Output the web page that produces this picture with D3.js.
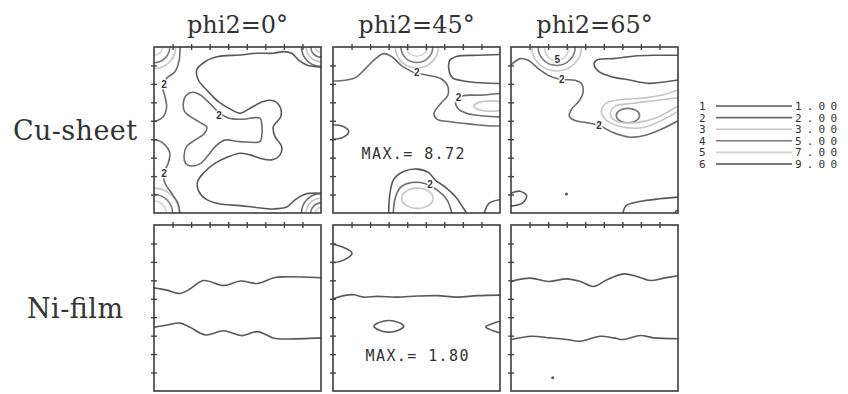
<!DOCTYPE html>
<html>
<head>
<meta charset="utf-8">
<script src="https://cdn.jsdelivr.net/npm/d3@7"></script>
<style>
  body { margin: 0; background: #fff; }
  svg { display: block; }
</style>
</head>
<body>
<svg id="chart" width="848" height="394"></svg>
<script>
// headings
const samples = ["Cu-sheet", "Ni-film"];
const sections = ["phi2=0°", "phi2=45°", "phi2=65°"];

// contour levels shown in the legend
const levelIds = [1, 2, 3, 4, 5, 6];
const levelValues = ["1.00", "2.00", "3.00", "5.00", "7.00", "9.00"];

// max intensity of each sample (printed in the phi2=45 section)
const maxValues = ["8.72", "1.80"];

const tickValues = [10, 20, 30, 40, 50, 60, 70, 80];

// contour lines, every point is [phi1, PHI] in degrees (0..90)
const cu0Lines = [
  {level: 2, closed: false, pts: [[14,0],[13.6,7],[11.3,13.4],[6.8,17],[4.7,21.5],[5.9,26.9],[6.8,32.4],[5,37.8],[0,40.5]]},
  {level: 2, closed: false, pts: [[0,50],[5,52.2],[8.5,57.5],[7.5,63.5],[5,68.5],[6,74],[10,80],[13,85],[14,90]]},
  {level: 1, closed: false, pts: [[90,11],[82.3,9.8],[77.8,7],[74.2,3.4],[69.7,2.5],[64.3,3.4],[55.4,3.4],[46.4,4.3],[33.8,5.3],[27.5,8],[23,12.5],[23.9,17.9],[28.4,23.3],[34.7,29.6],[41.9,34.1],[46.4,36],[51.8,33.2],[58.9,29.6],[64.3,29.1],[67.9,32.4],[68.3,37.8],[64.3,43.2],[65.2,48.6],[68.8,54],[67.9,58.5],[63.4,61.2],[57.1,60.3],[51.8,58.5],[46.4,57.6],[40,59.5],[33,63],[27,68],[23.5,73],[24,78],[28,82.5],[35,85],[46.4,86],[55,87],[64.3,87.8],[71.5,86.8],[76,82.9],[81.4,79.8],[90,79.3]]},
  {level: 2, closed: true, pts: [[46.4,39.2],[40,38.5],[35,35.5],[30,30.5],[25,26],[21,24.5],[17.5,26],[15.8,30.5],[16.5,35],[20,38],[25,41],[28.5,43.5],[27,47],[22,50.5],[17.5,54],[16.2,59],[17,63],[20,64.5],[24.5,63.5],[29,59],[33,54],[38,50.5],[46.4,51.3],[57.1,51.3],[58,48.6],[58,41.4],[57.1,38.6]]}
];
// ring-shaped contours round a peak: centre and radii in degrees
const cu0Rings = [
  {level: 3, cx: 0, cy: 0, rx: 11.7, ry: 11.7}, {level: 4, cx: 0, cy: 0, rx: 8.5, ry: 8.5}, {level: 5, cx: 0, cy: 0, rx: 4.5, ry: 4.5},
  {level: 2, cx: 90, cy: 0, rx: 10.5, ry: 10.5}, {level: 3, cx: 90, cy: 0, rx: 8, ry: 8}, {level: 4, cx: 90, cy: 0, rx: 5.5, ry: 5.5}, {level: 5, cx: 90, cy: 0, rx: 3, ry: 3},
  {level: 3, cx: 0, cy: 90, rx: 13.5, ry: 13.5}, {level: 4, cx: 0, cy: 90, rx: 10, ry: 10}, {level: 5, cx: 0, cy: 90, rx: 6.5, ry: 6.5},
  {level: 2, cx: 90, cy: 90, rx: 10.5, ry: 10.5}, {level: 3, cx: 90, cy: 90, rx: 8, ry: 8}, {level: 4, cx: 90, cy: 90, rx: 5.5, ry: 5.5}, {level: 5, cx: 90, cy: 90, rx: 3, ry: 3}
];
const cu0Labels = [{text: "2", x: 5.4, y: 20.6}, {text: "2", x: 5.4, y: 68.8}, {text: "2", x: 35, y: 36.9}];

const cu45Lines = [
  {level: 1, closed: false, pts: [[0,42.3],[4.9,42.8],[8.5,45.9],[5.4,49],[0,50]]},
  {level: 2, closed: false, pts: [[0,18.4],[6.7,18],[12.1,16.6],[17.5,11.7],[22.9,6.3],[27.4,3.6],[31.9,5.4],[37.3,10.4],[43.6,13.8],[50.8,15.3],[58,17.1],[61.6,20.7],[61.9,26.1],[58,30.6],[54.4,36],[56.2,39.2],[63.4,40.5],[74.2,41.8],[83.2,42.7],[90,42.8]]},
  {level: 1, closed: false, pts: [[90,4.1],[77.8,4.5],[67,5],[63,7.2],[62.5,12.6],[64.3,16.6],[70.6,18.4],[79.6,19.4],[90,19.8]]},
  {level: 2, closed: false, pts: [[90,25.2],[79.6,26.1],[69.7,26.6],[66.1,29.7],[67.3,33.3],[72.4,36],[81.4,37.4],[90,37.9]]},
  {level: 1, closed: false, pts: [[30,90],[30.5,81],[32.6,72],[38,67.5],[45.1,66.2],[51.4,68],[55,72],[61.2,76.5],[66.6,81.9],[70.2,87.3],[72,90]]},
  {level: 2, closed: false, pts: [[32.5,90],[33.5,82],[36.5,76],[42.5,73.5],[49.5,74],[56,77.5],[61.5,83],[64,90]]},
  {level: 1, closed: false, pts: [[90,82.8],[84.2,84.6],[81.5,90]]}
];
const cu45Rings = [
  {level: 3, cx: 45.2, cy: 0, rx: 11.6, ry: 11.4}, {level: 4, cx: 45.2, cy: 0, rx: 8.6, ry: 8.4}, {level: 5, cx: 45.2, cy: 0, rx: 5.6, ry: 5},
  {level: 3, cx: 85, cy: 32, rx: 9, ry: 2.8},
  {level: 3, cx: 45.5, cy: 82, rx: 8.5, ry: 5.5}
];
const cu45Labels = [{text: "2", x: 45.1, y: 14}, {text: "2", x: 67.6, y: 27.5}, {text: "2", x: 52.3, y: 74.5}];

const cu65Lines = [
  {level: 2, closed: false, pts: [[0,9.9],[4.8,6.3],[9.3,7.2],[14.7,11.7],[20.9,15.8],[27.3,17.6],[34.4,18],[38,19.8],[38.9,24.3],[37.1,28.8],[32.6,33.8],[31.4,37.4],[34.4,39.9],[40.7,41],[47.3,42.4],[55,46.4],[64,48.9],[72.9,47.7],[81.9,44.2],[90,40]]},
  {level: 1, closed: false, pts: [[90,4.5],[76.5,4.5],[65.7,5],[55,6.3],[46.9,6.8],[44.8,9],[46.9,12.9],[53.2,15.8],[63.9,17.9],[74.6,19.7],[83.6,18.8],[90,17.9]]},
  {level: 3, closed: false, pts: [[90,23.3],[81.8,26],[71.1,27.7],[58.5,28.6],[51.4,30.4],[48.7,34.9],[51.4,39.7],[58.5,43],[69.3,43.9],[78.2,41.2],[90,34.9]]},
  {level: 3, closed: false, pts: [[90,27.5],[78,29],[66,30.5],[56,32.2],[53.5,36.5],[57,40.3],[67,41],[78,38.5],[90,32]]},
  {level: 1, closed: false, pts: [[0,79.3],[4.8,78.2],[8.4,80.6],[6.3,84.5],[0,86.3]]},
  {level: 1, closed: false, pts: [[60.3,90],[62.1,86],[69.3,83.8],[80,82.3],[90,81.4]]}
];
const cu65Rings = [
  {level: 3, cx: 24.6, cy: 0, rx: 13.4, ry: 13}, {level: 4, cx: 24.6, cy: 0, rx: 10, ry: 10}, {level: 5, cx: 24.6, cy: 0, rx: 6.5, ry: 7.5},
  {level: 4, cx: 63, cy: 37.2, rx: 6.3, ry: 3.9},
  {level: 1, cx: 90, cy: 90, rx: 1.5, ry: 1.5},
  {level: 1, cx: 29.9, cy: 79.7, rx: 0.4, ry: 0.4}
];
const cu65Labels = [{text: "5", x: 25, y: 7}, {text: "2", x: 27.3, y: 17.5}, {text: "2", x: 47.4, y: 42.4}];

const ni0Lines = [
  {level: 1, closed: false, pts: [[0,34.1],[6.9,35.3],[14.1,37.1],[19.5,34.6],[26.7,30.1],[37.6,32.8],[46.6,30.4],[55.7,31.7],[64.7,28.6],[70.1,28.1],[90,28.6]]},
  {level: 1, closed: false, pts: [[0,55.5],[6.9,54.2],[14.1,53.2],[19.5,55.5],[27.6,59.6],[37.6,57.3],[47.5,60],[55.7,57.8],[64.7,61.4],[70.1,61.8],[90,61.2]]}
];
const ni45Lines = [
  {level: 1, closed: false, pts: [[0,10.4],[5.8,12.2],[10.3,15.3],[6.1,18.9],[0,20.5]]},
  {level: 1, closed: false, pts: [[0,40.1],[5.8,38.3],[11.2,37.8],[16.6,39.1],[23.8,38.7],[34.6,39.1],[45.4,38.5],[56.2,38.3],[67,39.1],[77.8,38.3],[90,38]]},
  {level: 1, closed: true, pts: [[22,54.9],[26.5,52.3],[33.7,52.3],[38.2,54.9],[33.7,57.6],[26.5,57.6]]},
  {level: 1, closed: false, pts: [[90,52.2],[85.9,53.5],[82.3,55.3],[85.9,57.2],[90,58.5]]}
];
const ni65Lines = [
  {level: 1, closed: false, pts: [[0,30.6],[10.3,28.8],[20.2,30.6],[30.1,29.2],[37.3,30.6],[44.5,33.3],[51.7,29.7],[60.7,26.5],[67.9,27.9],[75.1,30.1],[82.3,28.8],[90,27.5]]},
  {level: 1, closed: false, pts: [[0,62.1],[11.2,60.3],[21.1,61.2],[30.1,62.1],[37.3,63],[48.1,60.3],[55.3,61.2],[60.7,62.1],[69.7,59.9],[76.9,61.2],[90,61.7]]}
];
const ni65Rings = [{level: 1, cx: 22.5, cy: 82.8, rx: 0.4, ry: 0.4}];

// one entry per section plot
const panels = [
  {row: 0, col: 0, lines: cu0Lines, rings: cu0Rings, labels: cu0Labels},
  {row: 0, col: 1, lines: cu45Lines, rings: cu45Rings, labels: cu45Labels},
  {row: 0, col: 2, lines: cu65Lines, rings: cu65Rings, labels: cu65Labels},
  {row: 1, col: 0, lines: ni0Lines, rings: [], labels: []},
  {row: 1, col: 1, lines: ni45Lines, rings: [], labels: []},
  {row: 1, col: 2, lines: ni65Lines, rings: ni65Rings, labels: []}
];

//Layout of the grid of plots
const panelLeft = [154, 333, 511];
const panelTop = [47, 225];
const panelW = 167, panelH = 166;

const svg = d3.select("#chart");
const levelColor = d3.scaleOrdinal(levelIds, ["#595959", "#6c6c6c", "#c6c6c6", "#7a7a7a", "#d0d0d0", "#484848"]);
const serif = "'DejaVu Serif', serif";
const sans = "'Liberation Sans', Arial, sans-serif";
const mono = "'DejaVu Sans Mono', monospace";

//Section titles above the columns
svg.append("g").selectAll("text")
  .data(sections)
  .join("text")
  .attr("x", (d, i) => panelLeft[i] + panelW / 2)
  .attr("y", 33)
  .attr("text-anchor", "middle")
  .style("font-family", serif)
  .style("font-size", "24px")
  .attr("fill", "#333")
  .text(d => d);

//Sample names on the left
svg.append("g").selectAll("text")
  .data(samples)
  .join("text")
  .attr("x", (d, i) => i === 0 ? 13 : 27)
  .attr("y", (d, i) => i === 0 ? 140 : 318)
  .attr("textLength", (d, i) => i === 0 ? 124 : 96)
  .style("font-family", serif)
  .style("font-size", "27px")
  .attr("fill", "#333")
  .text(d => d);

panels.forEach((p, i) => {
  const left = panelLeft[p.col];
  const top = panelTop[p.row];
  const x = d3.scaleLinear().domain([0, 90]).range([left, left + panelW]);
  const y = d3.scaleLinear().domain([0, 90]).range([top, top + panelH]);

  //Clip the contours to the plot square
  svg.append("clipPath").attr("id", "clip" + i)
    .append("rect")
    .attr("x", left).attr("y", top)
    .attr("width", panelW).attr("height", panelH);

  const g = svg.append("g").attr("clip-path", `url(#clip${i})`);

  g.selectAll("ellipse")
    .data(p.rings)
    .join("ellipse")
    .attr("cx", d => x(d.cx))
    .attr("cy", d => y(d.cy))
    .attr("rx", d => x(d.rx) - x(0))
    .attr("ry", d => y(d.ry) - y(0))
    .attr("fill", "none")
    .attr("stroke", d => levelColor(d.level))
    .attr("stroke-width", 1.6);

  const openLine = d3.line().x(d => x(d[0])).y(d => y(d[1])).curve(d3.curveCatmullRom.alpha(0.5));
  const closedLine = d3.line().x(d => x(d[0])).y(d => y(d[1])).curve(d3.curveCatmullRomClosed.alpha(0.5));

  g.selectAll("path")
    .data(p.lines)
    .join("path")
    .attr("d", d => (d.closed ? closedLine : openLine)(d.pts))
    .attr("fill", "none")
    .attr("stroke", d => levelColor(d.level))
    .attr("stroke-width", 1.6);

  //Level numbers written on the contours
  g.selectAll("text")
    .data(p.labels)
    .join("text")
    .attr("x", d => x(d.x))
    .attr("y", d => y(d.y))
    .attr("dy", "0.35em")
    .attr("text-anchor", "middle")
    .style("font-family", sans)
    .style("font-size", "10px")
    .style("font-weight", "bold")
    .attr("fill", "#333")
    .attr("stroke", "#fff")
    .attr("stroke-width", 2.5)
    .attr("paint-order", "stroke")
    .text(d => d.text);

  //Frame
  svg.append("rect")
    .attr("x", left).attr("y", top)
    .attr("width", panelW).attr("height", panelH)
    .attr("fill", "none")
    .attr("stroke", "#3c3c3c")
    .attr("stroke-width", 1.6);

  //Ticks crossing the top and left edges
  const topAxis = svg.append("g")
    .attr("transform", `translate(0,${top + 3})`)
    .call(d3.axisTop(x).tickValues(tickValues).tickSize(6).tickFormat(""));
  const leftAxis = svg.append("g")
    .attr("transform", `translate(${left + 3},0)`)
    .call(d3.axisLeft(y).tickValues(tickValues).tickSize(6).tickFormat(""));
  [topAxis, leftAxis].forEach(a => {
    a.select(".domain").remove();
    a.selectAll("line").attr("stroke", "#444").attr("stroke-width", 1.4);
  });
});

//Maximum values, written inside the middle column
svg.append("g").selectAll("text")
  .data(maxValues)
  .join("text")
  .attr("x", (d, i) => i === 0 ? 413 : 417)
  .attr("y", (d, i) => i === 0 ? 159 : 361)
  .attr("text-anchor", "middle")
  .attr("textLength", 103)
  .style("font-family", mono)
  .style("font-size", "15px")
  .attr("fill", "#333")
  .text(d => "MAX.= " + d);

//Legend of contour levels
const legendY = d3.scalePoint().domain(levelIds).range([106, 164]);
const legend = svg.append("g");

legend.selectAll("text.id")
  .data(levelIds)
  .join("text")
  .attr("class", "id")
  .attr("x", 699)
  .attr("y", d => legendY(d))
  .attr("dy", "0.36em")
  .style("font-family", mono)
  .style("font-size", "11px")
  .attr("fill", "#333")
  .text(d => d);

legend.selectAll("line")
  .data(levelIds)
  .join("line")
  .attr("x1", 716).attr("x2", 792)
  .attr("y1", d => legendY(d)).attr("y2", d => legendY(d))
  .attr("stroke", d => levelColor(d))
  .attr("stroke-width", 1.6);

legend.selectAll("text.val")
  .data(levelValues)
  .join("text")
  .attr("class", "val")
  .attr("x", 795)
  .attr("y", (d, i) => legendY(levelIds[i]))
  .attr("dy", "0.36em")
  .attr("textLength", 42)
  .style("font-family", mono)
  .style("font-size", "11px")
  .attr("fill", "#333")
  .text(d => d);
</script>
</body>
</html>
